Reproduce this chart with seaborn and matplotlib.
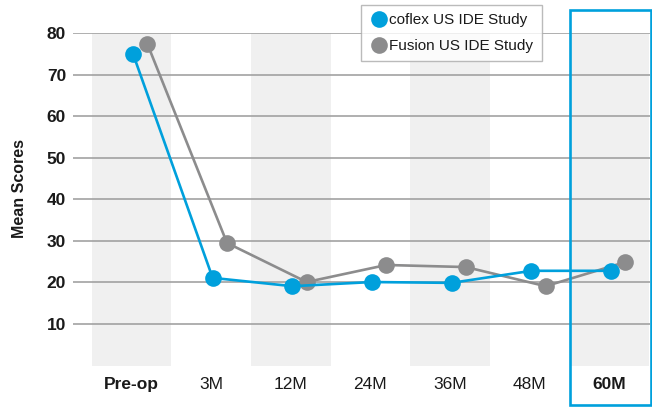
import matplotlib
matplotlib.use("Agg")
import matplotlib.pyplot as plt
from matplotlib.lines import Line2D
from matplotlib.patches import Rectangle
import numpy as np
import pandas as pd
import seaborn as sns

# Data
timepoints = ["Pre-op", "3M", "12M", "24M", "36M", "48M", "60M"]
coflex_scores = [75.0, 21.1, 19.1, 20.1, 19.9, 22.8, 22.8]
fusion_scores = [77.4, 29.5, 20.1, 24.2, 23.7, 19.1, 24.9]
series_names = ["coflex US IDE Study", "Fusion US IDE Study"]
y_ticks = [10, 20, 30, 40, 50, 60, 70, 80]

BLUE = "#00a0dc"
GREY = "#8c8c8d"
BAND = "#f0f0f0"
TEXT = "#1a1a1a"

sns.set_theme(style="white")
plt.rcParams["font.family"] = ["Liberation Sans", "DejaVu Sans"]

idx = np.arange(len(timepoints))
offsets = {series_names[0]: 0.02, series_names[1]: 0.2}
df = pd.concat([
    pd.DataFrame({"pos": idx + offsets[series_names[0]], "score": coflex_scores,
                  "study": series_names[0]}),
    pd.DataFrame({"pos": idx + offsets[series_names[1]], "score": fusion_scores,
                  "study": series_names[1]}),
])

fig = plt.figure(figsize=(6.52, 4.07), dpi=100)
ax = fig.add_axes([73 / 652, 41.4 / 407, 577 / 652, 332.6 / 407])

# alternating shaded columns
for i in range(0, len(timepoints), 2):
    ax.axvspan(i - 0.5, i + 0.5, color=BAND, lw=0, zorder=0)

sns.lineplot(data=df, x="pos", y="score", hue="study", hue_order=series_names,
             palette=[BLUE, GREY], marker="o", markersize=12, markeredgewidth=0,
             linewidth=1.9, legend=False, ax=ax, zorder=3, sort=False)
# grey series drawn beneath the blue one
for line in ax.lines:
    if line.get_color() == GREY:
        line.set_zorder(2)

ax.set_xlim(-0.733, 6.51)
ax.set_ylim(0, 80)
ax.set_yticks(y_ticks)
ax.set_xticks(idx)
ax.set_xticklabels(timepoints)
ax.yaxis.grid(True, color="#9a9a9a", linewidth=1.1, zorder=1)
ax.xaxis.grid(False)
ax.set_axisbelow(True)
for s in ax.spines.values():
    s.set_visible(False)
ax.tick_params(axis="both", length=0, colors=TEXT, labelsize=12.5)
ax.tick_params(axis="y", pad=5)
ax.tick_params(axis="x", pad=8)
for lbl in ax.get_yticklabels():
    lbl.set_fontweight("bold")
for lbl in ax.get_xticklabels():
    if lbl.get_text() in ("Pre-op", "60M"):
        lbl.set_fontweight("bold")
ax.set_xlabel("")
ax.set_ylabel("")

fig.text(20 / 652, 1 - 188 / 407, "Mean Scores", rotation=90, ha="center",
         va="center", fontsize=11.5, fontweight="bold", color=TEXT)

# highlight box around the final timepoint
fig.patches.append(Rectangle((570 / 652, 2 / 407), 81 / 652, 395 / 407,
                             transform=fig.transFigure, fill=False,
                             edgecolor=BLUE, linewidth=1.9, zorder=5))

handles = [Line2D([], [], linestyle="none", marker="o", markersize=12,
                  markerfacecolor=c, markeredgewidth=0) for c in (BLUE, GREY)]
leg = fig.legend(handles, series_names, loc="upper left",
                 bbox_to_anchor=(361 / 652, 1 - 5 / 407), frameon=True,
                 fancybox=False, fontsize=11, handletextpad=0.1,
                 handlelength=1.2, borderpad=0.55, labelspacing=0.75,
                 borderaxespad=0)
leg.get_frame().set_edgecolor("#aaaaaa")
leg.get_frame().set_linewidth(1.0)
for t in leg.get_texts():
    t.set_color(TEXT)

fig.savefig("out.png", dpi=100)
